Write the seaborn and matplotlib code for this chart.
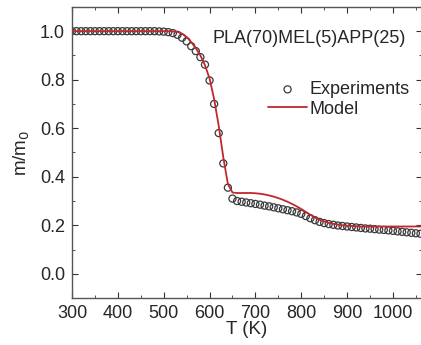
import numpy as np
import pandas as pd
import seaborn as sns
import matplotlib.pyplot as plt
from matplotlib.ticker import MultipleLocator

# temperature grid (K)
temps = [300, 310, 320, 330, 340, 350, 360, 370, 380, 390, 400, 410, 420, 430, 440,
         450, 460, 470, 480, 490, 500, 510, 520, 530, 540, 550, 560, 570, 580, 590,
         600, 610, 620, 630, 640, 650, 660, 670, 680, 690, 700, 710, 720, 730, 740,
         750, 760, 770, 780, 790, 800, 810, 820, 830, 840, 850, 860, 870, 880, 890,
         900, 910, 920, 930, 940, 950, 960, 970, 980, 990, 1000, 1010, 1020, 1030,
         1040, 1050, 1060]

exp_mass = [1.0, 1.0, 1.0, 1.0, 1.0, 1.0, 1.0, 1.0, 1.0, 1.0, 1.0, 1.0, 1.0, 1.0, 1.0,
            1.0, 1.0, 1.0, 1.0, 0.999, 0.998, 0.996, 0.992, 0.985, 0.973, 0.958, 0.938,
            0.918, 0.893, 0.862, 0.797, 0.70, 0.58, 0.455, 0.355, 0.31, 0.30, 0.297,
            0.294, 0.291, 0.288, 0.285, 0.281, 0.278, 0.274, 0.270, 0.266, 0.262,
            0.258, 0.253, 0.247, 0.238, 0.229, 0.221, 0.214, 0.209, 0.205, 0.202,
            0.199, 0.197, 0.195, 0.193, 0.191, 0.189, 0.187, 0.186, 0.184, 0.182,
            0.181, 0.179, 0.177, 0.175, 0.173, 0.171, 0.169, 0.167, 0.165]

model_mass = [1.0, 1.0, 1.0, 1.0, 1.0, 1.0, 1.0, 1.0, 1.0, 1.0, 1.0, 1.0, 1.0, 1.0, 1.0,
              1.0, 1.0, 1.0, 1.0, 1.0, 1.0, 1.0, 0.999, 0.997, 0.99, 0.976, 0.955,
              0.93, 0.90, 0.86, 0.805, 0.72, 0.61, 0.48, 0.37, 0.335, 0.333, 0.333,
              0.333, 0.333, 0.332, 0.330, 0.327, 0.323, 0.318, 0.312, 0.305, 0.297,
              0.288, 0.278, 0.267, 0.255, 0.243, 0.232, 0.223, 0.216, 0.210, 0.206,
              0.203, 0.200, 0.198, 0.197, 0.196, 0.195, 0.195, 0.195, 0.195, 0.195,
              0.195, 0.195, 0.195, 0.195, 0.195, 0.195, 0.195, 0.195, 0.195]

df = pd.DataFrame({"T": temps, "exp": exp_mass, "model": model_mass})

sns.set_style("ticks")
plt.rcParams['font.family'] = ['Liberation Sans', 'DejaVu Sans']

fig = plt.figure(figsize=(4.21, 3.45), dpi=100)
ax = fig.add_axes([0.171, 0.136, 0.831, 0.844])

sns.scatterplot(data=df, x="T", y="exp", ax=ax, marker="o", s=26,
                facecolor="none", edgecolor="#3a3a3a", linewidth=0.9,
                label="Experiments", zorder=2)
sns.lineplot(data=df, x="T", y="model", ax=ax, color="#c0282d", linewidth=1.3,
             label="Model", zorder=3)

ax.set_xlim(300, 1063)
ax.set_ylim(-0.1, 1.1)
ax.xaxis.set_major_locator(MultipleLocator(100))
ax.xaxis.set_minor_locator(MultipleLocator(50))
ax.yaxis.set_major_locator(MultipleLocator(0.2))
ax.yaxis.set_minor_locator(MultipleLocator(0.1))
ax.tick_params(which="both", direction="in", top=True, right=True,
               labelsize=13, color="#333333")
ax.tick_params(which="major", length=4, pad=5)
ax.tick_params(which="minor", length=2)
for s in ax.spines.values():
    s.set_color("#555555")
    s.set_linewidth(1.0)

ax.set_xlabel("T (K)", fontsize=13.5, labelpad=-1)
ax.set_ylabel("m/m$_0$", fontsize=13.5, labelpad=6)

ax.text(0.955, 0.893, "PLA(70)MEL(5)APP(25)", transform=ax.transAxes,
        ha="right", va="center", fontsize=13)

ax.legend(loc="upper right", bbox_to_anchor=(0.985, 0.77), frameon=False,
          fontsize=13, handlelength=2.2, handletextpad=0.1, borderaxespad=0,
          labelspacing=0.15)

plt.savefig("out.png", dpi=100)
